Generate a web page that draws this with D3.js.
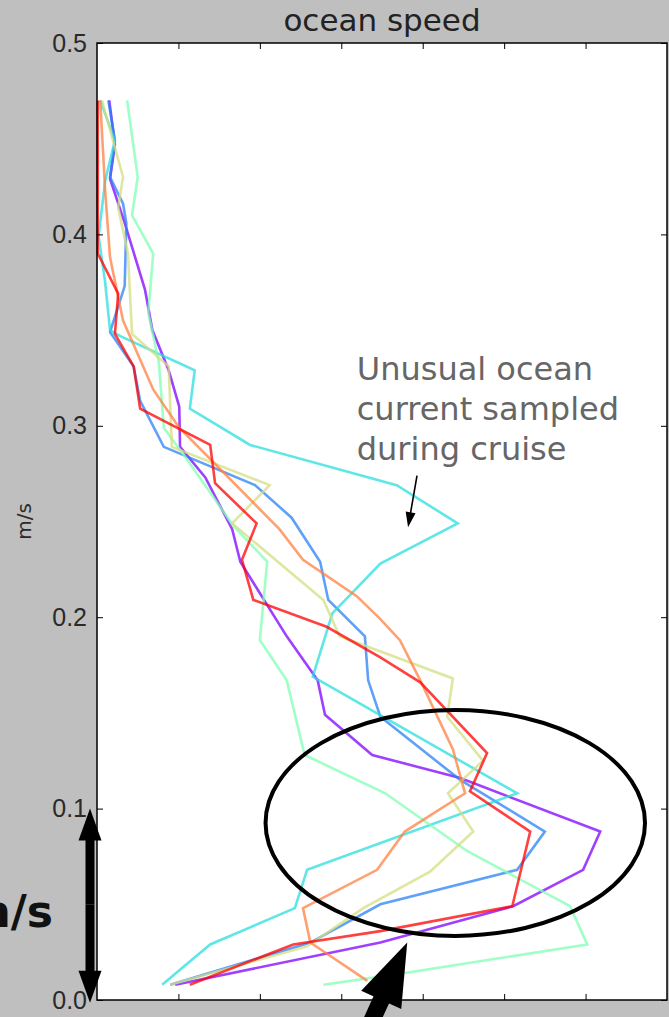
<!DOCTYPE html>
<html>
  <head>
    <meta charset="utf-8">
    <script src="https://d3js.org/d3.v7.min.js"></script>
    <title>ocean speed</title>
    <style>
      body { margin: 0px; background: #bfbfbf; }
      svg { display: block; font-family: 'DejaVu Sans', sans-serif; }
      .tick line { stroke: #000; }
      .tick text { fill: #2a2a2a; font-size: 25px; }
    </style>
  </head>
  <body>
    <svg width="669" height="1017"></svg>
    <script>
      // profiles, [x, speed] pairs
      const purple = [[0.15,0.470],[0.22,0.447],[0.16,0.429],[0.34,0.406],[0.59,0.371],[0.68,0.350],[0.88,0.329],[1.01,0.310],[1.02,0.289],[1.33,0.273],[1.66,0.246],[1.76,0.229],[2.33,0.190],[2.71,0.167],[2.80,0.149],[3.38,0.128],[4.46,0.116],[6.18,0.088],[5.97,0.068],[5.11,0.049],[3.48,0.030],[0.96,0.008]];
      const blue = [[0.14,0.470],[0.22,0.449],[0.16,0.430],[0.32,0.416],[0.36,0.406],[0.34,0.373],[0.16,0.349],[0.45,0.331],[0.53,0.313],[0.82,0.289],[1.94,0.269],[2.39,0.252],[2.74,0.229],[2.84,0.209],[3.29,0.190],[3.33,0.167],[3.48,0.148],[4.46,0.115],[5.50,0.088],[5.16,0.068],[3.48,0.050],[2.62,0.030],[0.90,0.008]];
      const cyan = [[0.04,0.470],[0.22,0.449],[0.10,0.428],[0.02,0.399],[0.10,0.375],[0.16,0.350],[0.28,0.347],[1.20,0.329],[1.14,0.309],[1.88,0.290],[3.68,0.269],[4.43,0.249],[3.48,0.228],[2.89,0.202],[2.65,0.169],[5.16,0.108],[2.58,0.068],[2.43,0.048],[1.39,0.029],[0.80,0.008]];
      const mint = [[0.37,0.470],[0.50,0.430],[0.43,0.410],[0.69,0.390],[0.63,0.359],[0.76,0.333],[0.82,0.299],[1.13,0.281],[1.67,0.248],[2.09,0.229],[2.00,0.188],[2.33,0.167],[2.55,0.128],[3.54,0.108],[4.54,0.078],[5.81,0.049],[6.02,0.029],[3.76,0.014],[2.78,0.008]];
      const khaki = [[0.06,0.470],[0.32,0.430],[0.26,0.414],[0.38,0.390],[0.43,0.348],[0.88,0.331],[0.92,0.289],[2.12,0.269],[1.66,0.249],[2.78,0.209],[2.98,0.190],[4.37,0.168],[4.30,0.148],[4.74,0.125],[4.31,0.108],[4.62,0.088],[4.09,0.067],[3.27,0.048],[2.58,0.028],[0.90,0.008]];
      const orange = [[0.04,0.470],[0.10,0.423],[0.16,0.388],[0.32,0.355],[0.69,0.319],[1.01,0.299],[2.24,0.246],[2.53,0.230],[3.19,0.211],[3.48,0.199],[3.72,0.188],[3.97,0.167],[4.37,0.131],[4.52,0.108],[3.78,0.088],[3.44,0.068],[2.53,0.048],[2.62,0.030],[3.32,0.010]];
      const red = [[0.01,0.470],[0.01,0.390],[0.26,0.369],[0.22,0.348],[0.45,0.331],[0.53,0.309],[1.39,0.290],[1.45,0.270],[1.96,0.249],[1.78,0.230],[1.92,0.209],[2.82,0.195],[3.48,0.179],[3.97,0.166],[4.79,0.129],[4.58,0.109],[5.32,0.088],[5.10,0.049],[3.48,0.036],[2.41,0.029],[1.14,0.008]];

      const profiles = [purple, blue, cyan, mint, khaki, orange, red];
      const lineColors = ['#8000ff', '#2a80f7', '#2addde', '#80ffb4', '#d4dd80', '#ff8042', '#ff0000'];

      const yTicks = [0, 0.1, 0.2, 0.3, 0.4, 0.5];
      const xTicks = [1, 2, 3, 4, 5, 6];

      const titleText = 'ocean speed';
      const yLabel = 'm/s';
      const noteLines = ['Unusual ocean', 'current sampled', 'during cruise'];

      const margin = { left: 97, right: 2, top: 43, bottom: 17 };
      const svg = d3.select('svg');
      const width = +svg.attr('width');
      const height = +svg.attr('height');
      const innerWidth = width - margin.left - margin.right;
      const innerHeight = height - margin.top - margin.bottom;

      const xScale = d3.scaleLinear().domain([0, 7]).range([margin.left, margin.left + innerWidth]);
      const yScale = d3.scaleLinear().domain([0, 0.5]).range([margin.top + innerHeight, margin.top]);

      svg.append('rect')
        .attr('width', width).attr('height', height)
        .attr('fill', '#bfbfbf');

      svg.append('rect')
        .attr('x', margin.left).attr('y', margin.top)
        .attr('width', innerWidth).attr('height', innerHeight)
        .attr('fill', '#fff');

      const line = d3.line()
        .x(d => xScale(d[0]))
        .y(d => yScale(d[1]));

      const plotG = svg.append('g');
      plotG.selectAll('path').data(profiles)
        .enter().append('path')
          .attr('d', line)
          .attr('fill', 'none')
          .attr('stroke', (d, i) => lineColors[i])
          .attr('stroke-opacity', 0.75)
          .attr('stroke-width', 2.6)
          .attr('stroke-linejoin', 'miter');

      // axes, ticks point inwards like matplotlib
      const leftAxis = d3.axisLeft(yScale).tickValues(yTicks).tickSize(-6).tickPadding(10)
        .tickFormat(d3.format('.1f'));
      const rightAxis = d3.axisRight(yScale).tickValues(yTicks).tickSize(-6).tickFormat('');
      const bottomAxis = d3.axisBottom(xScale).tickValues(xTicks).tickSize(-6).tickFormat('');
      const topAxis = d3.axisTop(xScale).tickValues(xTicks).tickSize(-6).tickFormat('');

      svg.append('g').attr('transform', `translate(${margin.left},0)`).call(leftAxis);
      svg.append('g').attr('transform', `translate(${margin.left + innerWidth},0)`).call(rightAxis);
      svg.append('g').attr('transform', `translate(0,${margin.top + innerHeight})`).call(bottomAxis);
      svg.append('g').attr('transform', `translate(0,${margin.top})`).call(topAxis);
      svg.selectAll('.domain').remove();
      svg.selectAll('.tick text').attr('font-family', null).attr('font-size', null);

      svg.append('rect')
        .attr('x', margin.left).attr('y', margin.top)
        .attr('width', innerWidth).attr('height', innerHeight)
        .attr('fill', 'none').attr('stroke', '#000').attr('stroke-width', 1.5);

      svg.append('text')
        .attr('x', margin.left + innerWidth / 2)
        .attr('y', 31)
        .attr('text-anchor', 'middle')
        .attr('font-size', 31)
        .attr('fill', '#222')
        .text(titleText);

      svg.append('text')
        .attr('transform', `translate(31,${yScale(0.25)}) rotate(-90)`)
        .attr('text-anchor', 'middle')
        .attr('font-size', 20)
        .attr('fill', '#2a2a2a')
        .text(yLabel);

      // annotation text and arrow
      svg.append('text')
        .attr('font-size', 32)
        .attr('fill', '#666')
        .selectAll('tspan').data(noteLines)
        .enter().append('tspan')
          .attr('x', xScale(3.19))
          .attr('y', (d, i) => yScale(0.324) + i * 40)
          .text(d => d);

      function arrow(g, from, to, shaft, headLen, headHalf) {
        const x0 = xScale(from[0]), y0 = yScale(from[1]);
        const x1 = xScale(to[0]), y1 = yScale(to[1]);
        const len = Math.hypot(x1 - x0, y1 - y0);
        const ux = (x1 - x0) / len, uy = (y1 - y0) / len;
        const bx = x1 - ux * headLen, by = y1 - uy * headLen;
        g.append('line')
          .attr('x1', x0).attr('y1', y0).attr('x2', bx + ux * 2).attr('y2', by + uy * 2)
          .attr('stroke', '#000').attr('stroke-width', shaft);
        g.append('polygon')
          .attr('points', [[x1, y1], [bx - uy * headHalf, by + ux * headHalf], [bx + uy * headHalf, by - ux * headHalf]].join(' '))
          .attr('fill', '#000');
      }

      const annG = svg.append('g');
      arrow(annG, [3.93, 0.274], [3.82, 0.247], 1.6, 15, 5);

      annG.append('ellipse')
        .attr('cx', xScale(4.40)).attr('cy', yScale(0.0925))
        .attr('rx', xScale(4.40 + 2.33) - xScale(4.40))
        .attr('ry', yScale(0) - yScale(0.059))
        .attr('fill', 'none').attr('stroke', '#000').attr('stroke-width', 4);

      arrow(annG, [3.17, -0.03], [3.81, 0.030], 17, 63, 22);

      // double headed arrow spanning 0 to 0.1
      arrow(annG, [-0.086, 0.05], [-0.086, 0.1], 9, 32, 11.5);
      arrow(annG, [-0.086, 0.05], [-0.086, -0.0015], 9, 32, 11.5);

      svg.append('text')
        .attr('x', 53)
        .attr('y', yScale(0.038))
        .attr('text-anchor', 'end')
        .attr('font-size', 44)
        .attr('font-weight', 'bold')
        .attr('fill', '#111')
        .text(yLabel);
    </script>
  </body>
</html>
